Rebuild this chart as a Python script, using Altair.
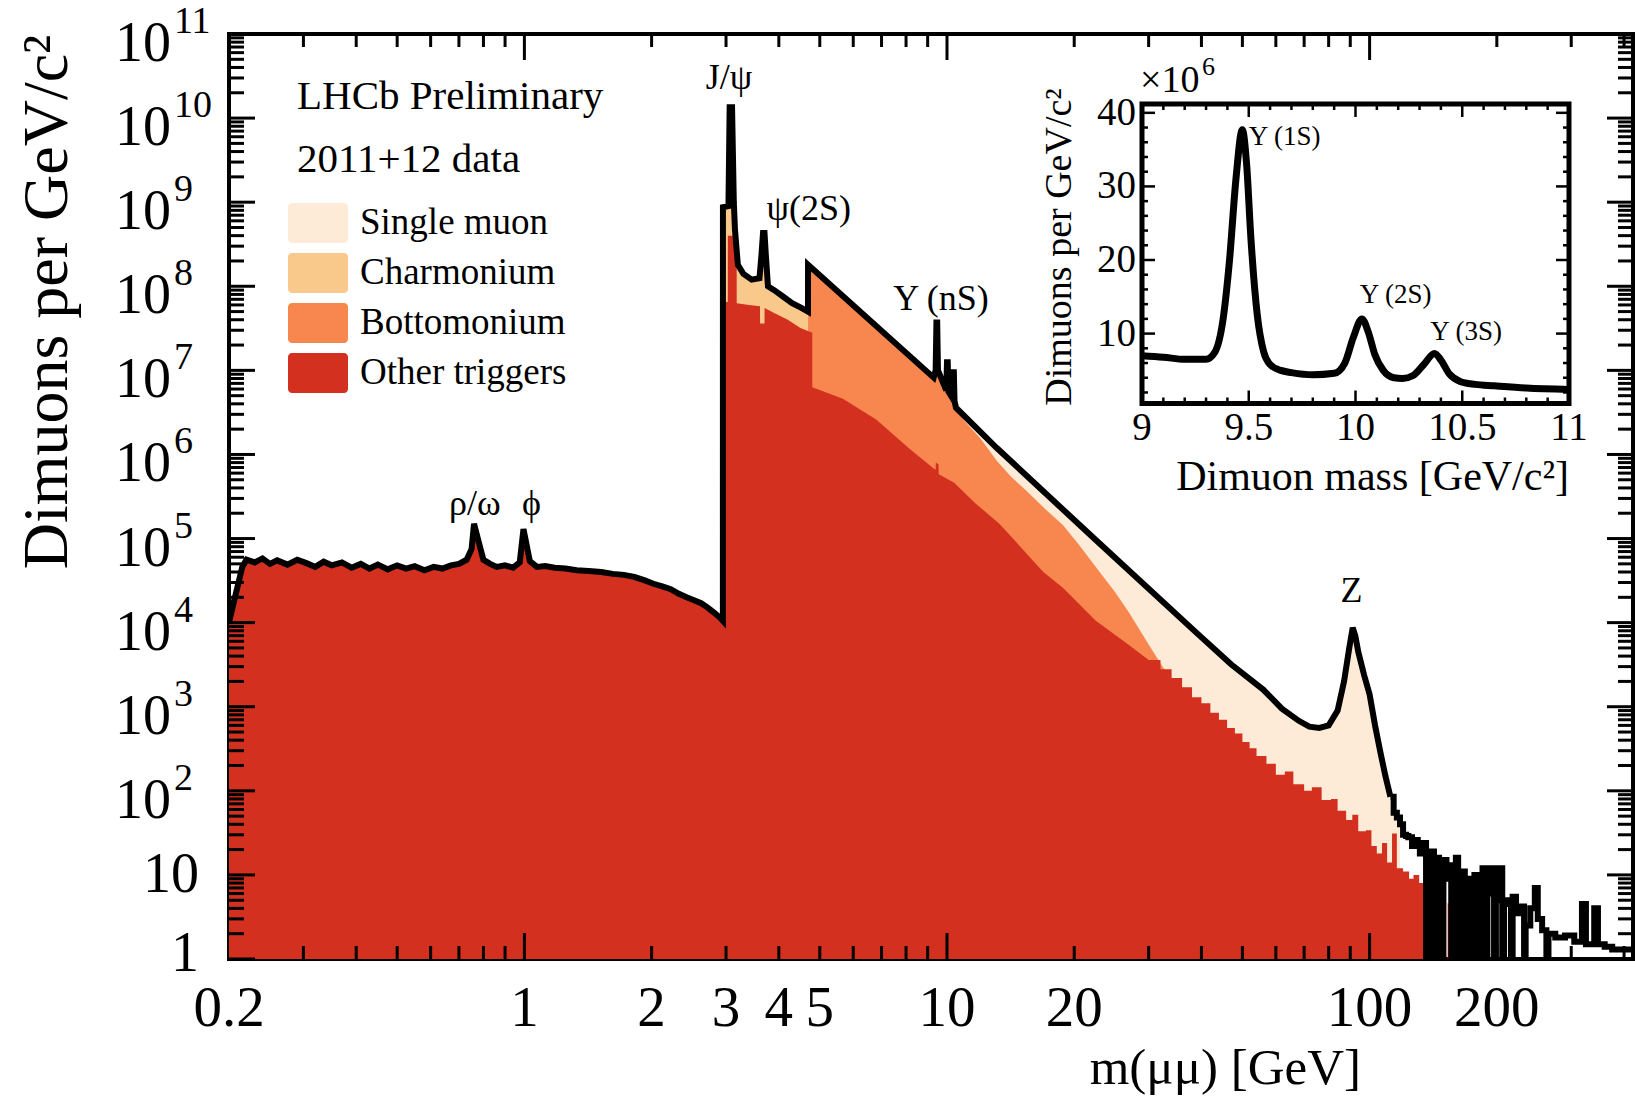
import altair as alt
import pandas as pd

W, H = 1404, 925
SERIF = "Liberation Serif"

# ---- total dimuon yield per GeV (black outline) ----
# vertices of the spectrum; below 112 GeV joined directly, above it drawn as bins
TOTAL_MASS = [
    0.200, 0.205, 0.210, 0.215, 0.220, 0.230, 0.240, 0.250, 0.260, 0.275,
    0.290, 0.305, 0.320, 0.335, 0.350, 0.370, 0.390, 0.410, 0.430, 0.450,
    0.475, 0.500, 0.525, 0.550, 0.580, 0.610, 0.640, 0.670, 0.700, 0.730,
    0.750, 0.760, 0.785, 0.800, 0.830, 0.860, 0.900, 0.940, 0.975, 0.995,
    1.030, 1.070, 1.120, 1.180, 1.250, 1.330, 1.420, 1.520, 1.620, 1.720,
    1.820, 1.920, 2.020, 2.120, 2.220, 2.320, 2.420, 2.520, 2.620, 2.720,
    2.820, 2.900, 2.949,
    2.950, 3.040, 3.060, 3.100, 3.130, 3.150, 3.200, 3.300, 3.450, 3.600,
    3.640, 3.670, 3.700, 3.730, 3.770, 3.900, 4.100, 4.300, 4.500, 4.689,
    4.690, 9.300, 9.400, 9.440, 9.480, 9.520, 9.960, 10.000, 10.040, 10.080,
    10.320, 10.340, 10.380, 10.420, 10.500, 13.1, 22.5, 38.9, 47.0, 56.0,
    62.0, 68.0, 72.0, 76.0, 80.0, 84.0, 87.0, 89.5, 91.2, 92.5,
    94.0, 97.0, 100.0, 103.0, 106.0, 109.0, 112.0,
    114.0, 116.0, 118.0, 120.0, 122.0, 123.5, 126.0, 128.0, 130.0, 131.5,
    134.0, 136.0, 137.5, 140.0, 142.0, 143.5, 146.0, 148.0, 149.5, 152.0,
    154.0, 156.0, 157.5, 160.0, 162.0, 163.5, 166.0, 168.0, 170.0, 173.0,
    175.0, 177.0, 180.0, 182.0, 185.0, 188.0, 190.0, 194.0, 197.0, 199.0,
    203.0, 206.0, 208.0, 212.0, 216.0, 218.0, 222.0, 227.0, 232.0, 234.0,
    240.0, 246.0, 250.0, 256.0, 262.0, 265.0, 275.0, 290.0, 305.0, 318.0,
    325.0, 340.0, 347.0, 360.0, 375.0, 390.0, 405.0, 420.0,
]
TOTAL = [
    1.0e4, 1.7e4, 2.8e4, 4.6e4, 5.6e4, 5.2e4, 5.8e4, 5.0e4, 5.5e4, 4.9e4,
    5.6e4, 5.1e4, 4.6e4, 5.3e4, 4.8e4, 5.2e4, 4.5e4, 5.0e4, 4.4e4, 4.9e4,
    4.3e4, 4.8e4, 4.4e4, 4.7e4, 4.2e4, 4.6e4, 4.4e4, 4.8e4, 5.0e4, 5.6e4,
    7.5e4, 1.5e5, 8.0e4, 5.6e4, 5.0e4, 4.6e4, 4.8e4, 4.5e4, 5.2e4, 1.3e5,
    5.4e4, 4.6e4, 4.7e4, 4.5e4, 4.4e4, 4.2e4, 4.1e4, 4.0e4, 3.8e4, 3.7e4,
    3.5e4, 3.2e4, 2.9e4, 2.7e4, 2.5e4, 2.2e4, 2.0e4, 1.85e4, 1.7e4, 1.5e4,
    1.3e4, 1.15e4, 1.05e4,
    8.7e8, 9.0e8, 1.35e10, 1.35e10, 1.0e9, 4.7e8, 1.8e8, 1.4e8, 1.2e8, 1.25e8,
    2.4e8, 4.3e8, 4.3e8, 2.2e8, 1.0e8, 9.0e7, 7.5e7, 6.3e7, 5.6e7, 5.0e7,
    1.8e8, 8.2e6, 1.0e7, 3.7e7, 3.7e7, 1.0e7, 5.8e6, 1.25e7, 1.25e7, 5.6e6,
    4.6e6, 9.5e6, 9.5e6, 4.3e6, 3.6e6, 1.2e6, 9.6e4, 7.6e3, 3.2e3, 1.6e3,
    9.5e2, 6.8e2, 5.8e2, 5.6e2, 6.0e2, 9.0e2, 2.0e3, 5.0e3, 8.7e3, 7.0e3,
    4.5e3, 2.4e3, 1.4e3, 6.0e2, 2.9e2, 1.5e2, 85,
    55, 48, 40, 30, 29, 28, 22, 26, 24, 18,
    24, 0.5, 14, 19, 0.5, 16, 11, 0.5, 15, 9,
    13, 0.5, 10, 16, 0.5, 8, 11, 0.5, 9, 6,
    0.5, 10, 0.5, 7, 12, 0.5, 6, 12, 0.5, 5,
    12, 0.5, 5, 4.5, 0.5, 5.5, 3.5, 4.2, 0.5, 2.5,
    4, 7, 3, 2.2, 0.5, 2.0, 1.8, 1.9, 1.6, 4.5,
    1.5, 4.0, 1.5, 1.4, 1.3, 1.3, 1.3, 1.3,
]

# ---- "Other triggers" top above the J/psi threshold (binned from 30 GeV on) ----
RED_MASS = [
    2.950, 3.029, 3.030, 3.179, 3.180, 3.400, 3.610, 3.611, 3.700, 3.701,
    3.900, 4.200, 4.500, 4.799, 4.800, 5.670, 6.800, 8.100, 9.300, 9.400,
    9.410, 9.550, 9.560, 10.40, 11.70, 13.30, 14.20, 16.90, 18.80, 22.50,
    27.00, 30.00,
    32.0, 34.0, 36.0, 38.0, 40.0, 42.0, 44.0, 46.0, 48.0, 50.0,
    52.0, 54.0, 57.0, 60.0, 63.0, 66.0, 70.0, 73.0, 77.0, 81.0,
    84.0, 88.0, 91.0, 94.0, 98.0, 101.0, 104.0, 107.0, 110.0, 113.0,
    116.0, 120.0, 124.0, 127.0, 131.0, 136.0, 140.0, 144.0, 153.0, 165.0,
    175.0, 181.0,
]
RED = [
    6.5e7, 6.5e7, 4.0e8, 4.0e8, 6.3e7, 6.0e7, 5.8e7, 3.6e7, 3.6e7, 5.5e7,
    4.8e7, 4.0e7, 3.2e7, 2.8e7, 6.3e6, 4.6e6, 2.6e6, 1.2e6, 6.8e5, 6.6e5,
    8.0e5, 7.6e5, 5.8e5, 4.6e5, 2.6e5, 1.5e5, 1.05e5, 4.0e4, 2.6e4, 1.05e4,
    5.4e3, 3.6e3,
    2.8e3, 2.2e3, 1.7e3, 1.3e3, 1.1e3, 8.5e2, 7.0e2, 5.6e2, 4.8e2, 3.8e2,
    3.2e2, 2.6e2, 2.1e2, 1.55e2, 1.7e2, 1.2e2, 1.0e2, 1.1e2, 78, 80,
    58, 45, 52, 33, 34, 22, 18, 24, 14, 31,
    12, 11, 9, 10, 8, 9, 3, 0.5, 4.6, 0.5,
    2.2, 0.5,
]

# ---- "Bottomonium" top once it separates from the total ----
ORANGE_MASS = [11.0, 12.0, 13.1, 14.2, 15.5, 17.0, 18.8, 20.5, 22.5, 25.0,
               27.0, 30.0, 32.5, 35.0]
ORANGE = [2.5e6, 1.55e6, 8.5e5, 5.4e5, 3.6e5, 2.3e5, 1.45e5, 8.5e4, 4.6e4, 2.3e4,
          1.3e4, 5.5e3, 2.9e3, 1.75e3]

# ---- inset: Upsilon region, yield in units of 10^6 per GeV/c^2 ----
INSET_MASS = [
    9.00, 9.10, 9.20, 9.30, 9.34, 9.38, 9.41, 9.44, 9.47, 9.49,
    9.51, 9.54, 9.57, 9.60, 9.65, 9.70, 9.80, 9.90, 9.95, 9.99,
    10.03, 10.06, 10.09, 10.13, 10.18, 10.22, 10.27, 10.32, 10.37, 10.40,
    10.44, 10.49, 10.56, 10.65, 10.80, 11.00,
]
INSET_YIELD = [
    7.0, 6.8, 6.5, 6.5, 7.4, 12.0, 20.0, 31.0, 37.7, 33.0,
    23.0, 12.5, 7.5, 5.8, 5.0, 4.7, 4.4, 4.6, 6.0, 9.5,
    12.0, 10.2, 7.2, 5.0, 4.0, 3.9, 4.3, 5.8, 7.3, 6.4,
    4.5, 3.5, 3.1, 2.9, 2.6, 2.4,
]

SERIES = ["Single muon", "Charmonium", "Bottomonium", "Other triggers"]
SERIES_COLORS = ["#fdebd7", "#f9c88b", "#f8874f", "#d4301f"]

X_LABELS = [0.2, 1, 2, 3, 4, 5, 10, 20, 100, 200]
X_MAJOR = [1, 10, 100]
X_MINOR = [0.3, 0.4, 0.5, 0.6, 0.7, 0.8, 0.9, 2, 3, 4, 5, 6, 7, 8, 9,
           20, 30, 40, 50, 60, 70, 80, 90, 200, 300, 400]
Y_EXPONENTS = list(range(0, 12))

INSET_X_MAJOR = [9, 9.5, 10, 10.5, 11]
INSET_X_MINOR = [9.1, 9.2, 9.3, 9.4, 9.6, 9.7, 9.8, 9.9, 10.1, 10.2, 10.3, 10.4,
                 10.6, 10.7, 10.8, 10.9]
INSET_Y_MAJOR = [10, 20, 30, 40]
INSET_Y_MINOR = [2, 4, 6, 8, 12, 14, 16, 18, 22, 24, 26, 28, 32, 34, 36, 38]

PEAKS = pd.DataFrame({
    "label": ["ρ/ω", "ϕ", "J/ψ", "ψ(2S)", "Υ (nS)", "Z"],
    "mass": [0.763, 1.04, 3.05, 4.71, 9.68, 90.6],
    "value": [2.6e5, 2.6e5, 3.0e10, 8.3e8, 7.0e7, 2.4e4],
})
INSET_PEAKS = pd.DataFrame({
    "label": ["Υ (1S)", "Υ (2S)", "Υ (3S)"],
    "mass": [9.50, 10.02, 10.35],
    "value": [36.7, 15.3, 10.2],
})

XS = alt.Scale(type="log", domain=[0.2, 420], nice=False)
YS = alt.Scale(type="log", domain=[1, 1e11], nice=False)
IX = alt.Scale(domain=[9, 11], range=[913, 1340], nice=False, zero=False)
IY = alt.Scale(domain=[0.5, 41.2], range=[369.5, 70], nice=False, zero=False)

total = pd.DataFrame({"mass": TOTAL_MASS, "value": TOTAL})
single = total[total.mass <= 118]
charm = total[(total.mass >= 2.95) & (total.mass <= 4.689)]
bottom = pd.concat([total[(total.mass >= 4.69) & (total.mass < 11)],
                    pd.DataFrame({"mass": ORANGE_MASS, "value": ORANGE})])
other = pd.concat([total[total.mass < 2.95],
                   pd.DataFrame({"mass": RED_MASS, "value": RED})])


def spectrum(df, split, area, overlap=0.0, **style):
    """Joined vertices below `split`, histogram bins above it."""
    out = []
    parts = ((df[df.mass <= split + overlap], "linear"), (df[df.mass >= split], "step-after"))
    for part, interp in parts:
        if len(part) < 2:
            continue
        x = alt.X("mass:Q", scale=XS, axis=None)
        y = alt.Y("value:Q", scale=YS, axis=None)
        if area:
            m = alt.Chart(part).mark_area(interpolate=interp, clip=True, **style)
            m = m.encode(x=x, y=y, y2=alt.datum(1))
        else:
            m = alt.Chart(part).mark_line(interpolate=interp, clip=True, **style)
            m = m.encode(x=x, y=y)
        out.append(m)
    return out


def text_at(t, x, y, size, align="left", baseline="middle", angle=0):
    return alt.Chart(pd.DataFrame({"t": [t]})).mark_text(
        font=SERIF, fontSize=size, align=align, baseline=baseline, angle=angle, color="black"
    ).encode(x=alt.value(x), y=alt.value(y), text="t:N")


def x_ticks(vals, length):
    base = alt.Chart(pd.DataFrame({"m": vals})).mark_rule(color="black", strokeWidth=3)
    xe = alt.X("m:Q", scale=XS, axis=None)
    return [base.encode(x=xe, y=alt.value(H), y2=alt.value(H - length)),
            base.encode(x=xe, y=alt.value(0), y2=alt.value(length))]


def y_ticks(vals, length):
    base = alt.Chart(pd.DataFrame({"v": vals})).mark_rule(color="black", strokeWidth=3)
    ye = alt.Y("v:Q", scale=YS, axis=None)
    return [base.encode(y=ye, x=alt.value(0), x2=alt.value(length)),
            base.encode(y=ye, x=alt.value(W - length), x2=alt.value(W))]


def inset_x_ticks(vals, length):
    base = alt.Chart(pd.DataFrame({"m": vals})).mark_rule(color="black", strokeWidth=2.5)
    xe = alt.X("m:Q", scale=IX, axis=None)
    return [base.encode(x=xe, y=alt.value(369.5), y2=alt.value(369.5 - length)),
            base.encode(x=xe, y=alt.value(70), y2=alt.value(70 + length))]


def inset_y_ticks(vals, length):
    base = alt.Chart(pd.DataFrame({"v": vals})).mark_rule(color="black", strokeWidth=2.5)
    ye = alt.Y("v:Q", scale=IY, axis=None)
    return [base.encode(y=ye, x=alt.value(913), x2=alt.value(913 + length)),
            base.encode(y=ye, x=alt.value(1340 - length), x2=alt.value(1340))]


layers = []
layers += spectrum(single, 112, True, overlap=3, color=SERIES_COLORS[0])
layers += spectrum(charm, 1000, True, color=SERIES_COLORS[1])
layers += spectrum(bottom, 1000, True, color=SERIES_COLORS[2])
layers += spectrum(other, 30, True, overlap=3, color=SERIES_COLORS[3])
layers += spectrum(total, 112, False, color="black", strokeWidth=6)

# inward ticks on all four sides of the main frame
layers += x_ticks(X_MAJOR, 26) + x_ticks(X_MINOR, 13)
minor_y = [k * 10 ** n for n in range(0, 11) for k in range(2, 10)]
layers += y_ticks([10 ** n for n in Y_EXPONENTS], 26) + y_ticks(minor_y, 15)

# x tick labels
layers.append(
    alt.Chart(pd.DataFrame({"m": X_LABELS, "t": [str(v) for v in X_LABELS]})).mark_text(
        font=SERIF, fontSize=57, align="center", baseline="middle", color="black"
    ).encode(x=alt.X("m:Q", scale=XS, axis=None), y=alt.value(H + 50), text="t:N")
)

# y tick labels: 1, 10, then 10 with a raised exponent
for v, t, dy in ((1, "1", -5), (10, "10", 0)):
    layers.append(
        alt.Chart(pd.DataFrame({"v": [v], "t": [t]})).mark_text(
            font=SERIF, fontSize=56, align="right", baseline="middle", dy=dy, color="black"
        ).encode(y=alt.Y("v:Q", scale=YS, axis=None), x=alt.value(-30), text="t:N")
    )
pow_df = pd.DataFrame({"v": [10.0 ** n for n in Y_EXPONENTS[2:]],
                       "base": ["10"] * len(Y_EXPONENTS[2:]),
                       "exp": [str(n) for n in Y_EXPONENTS[2:]]})
layers.append(
    alt.Chart(pow_df).mark_text(font=SERIF, fontSize=56, align="right", baseline="middle",
                                dy=10, color="black").encode(
        y=alt.Y("v:Q", scale=YS, axis=None), x=alt.value(-58), text="base:N")
)
layers.append(
    alt.Chart(pow_df).mark_text(font=SERIF, fontSize=38, align="left", baseline="middle",
                                dy=-12, color="black").encode(
        y=alt.Y("v:Q", scale=YS, axis=None), x=alt.value(-55), text="exp:N")
)

# axis titles
layers.append(text_at("m(μμ) [GeV]", 1132, 1035, 51, align="right"))
layers.append(text_at("Dimuons per GeV/c²", -181, 268, 64, align="center", angle=270))

# experiment tag
layers.append(text_at("LHCb Preliminary", 68, 63, 41))
layers.append(text_at("2011+12 data", 68, 126, 41))

# legend
for i, (name, color) in enumerate(zip(SERIES, SERIES_COLORS)):
    yc = 189 + 50 * i
    layers.append(
        alt.Chart(pd.DataFrame({"n": [name]})).mark_rect(color=color, cornerRadius=4).encode(
            x=alt.value(59), x2=alt.value(119), y=alt.value(yc - 20), y2=alt.value(yc + 20))
    )
    layers.append(text_at(name, 131, yc, 37))

# resonance labels
layers.append(
    alt.Chart(PEAKS).mark_text(font=SERIF, fontSize=36, align="center", baseline="middle",
                               color="black").encode(
        x=alt.X("mass:Q", scale=XS, axis=None),
        y=alt.Y("value:Q", scale=YS, axis=None),
        text="label:N")
)

# ---- inset ----
layers.append(
    alt.Chart(pd.DataFrame({"x": [9], "x2": [11], "y": [0.5], "y2": [41.2]})).mark_rect(
        fill="white", stroke="black", strokeWidth=5).encode(
        x=alt.X("x:Q", scale=IX, axis=None), x2="x2:Q",
        y=alt.Y("y:Q", scale=IY, axis=None), y2="y2:Q")
)
layers += inset_x_ticks(INSET_X_MAJOR, 13) + inset_x_ticks(INSET_X_MINOR, 6)
layers += inset_y_ticks(INSET_Y_MAJOR, 13) + inset_y_ticks(INSET_Y_MINOR, 6)
layers.append(
    alt.Chart(pd.DataFrame({"mass": INSET_MASS, "y": INSET_YIELD})).mark_line(
        interpolate="monotone", color="black", strokeWidth=7).encode(
        x=alt.X("mass:Q", scale=IX, axis=None),
        y=alt.Y("y:Q", scale=IY, axis=None))
)
layers.append(
    alt.Chart(INSET_PEAKS).mark_text(font=SERIF, fontSize=27, align="left", baseline="middle",
                                     color="black").encode(
        x=alt.X("mass:Q", scale=IX, axis=None),
        y=alt.Y("value:Q", scale=IY, axis=None),
        text="label:N")
)
layers.append(
    alt.Chart(pd.DataFrame({"m": INSET_X_MAJOR,
                            "t": ["9", "9.5", "10", "10.5", "11"]})).mark_text(
        font=SERIF, fontSize=39, align="center", baseline="middle", color="black").encode(
        x=alt.X("m:Q", scale=IX, axis=None), y=alt.value(394), text="t:N")
)
layers.append(
    alt.Chart(pd.DataFrame({"v": INSET_Y_MAJOR, "t": [str(v) for v in INSET_Y_MAJOR]})).mark_text(
        font=SERIF, fontSize=39, align="right", baseline="middle", color="black").encode(
        y=alt.Y("v:Q", scale=IY, axis=None), x=alt.value(907), text="t:N")
)
layers.append(text_at("×10", 911, 47, 38))
layers.append(text_at("6", 973, 33, 26))
layers.append(text_at("Dimuon mass [GeV/c²]", 1340, 443, 42, align="right"))
layers.append(text_at("Dimuons per GeV/c²", 831, 213, 38, align="center", angle=270))

chart = alt.layer(*layers).resolve_scale(
    x="independent", y="independent"
).properties(
    width=W, height=H,
    padding={"left": 229, "top": 34, "right": 2, "bottom": 137},
    autosize=alt.AutoSizeParams(type="none"),
).configure_view(stroke="black", strokeWidth=4)

chart.save("out.html", embed_options={"renderer": "svg", "actions": False})
